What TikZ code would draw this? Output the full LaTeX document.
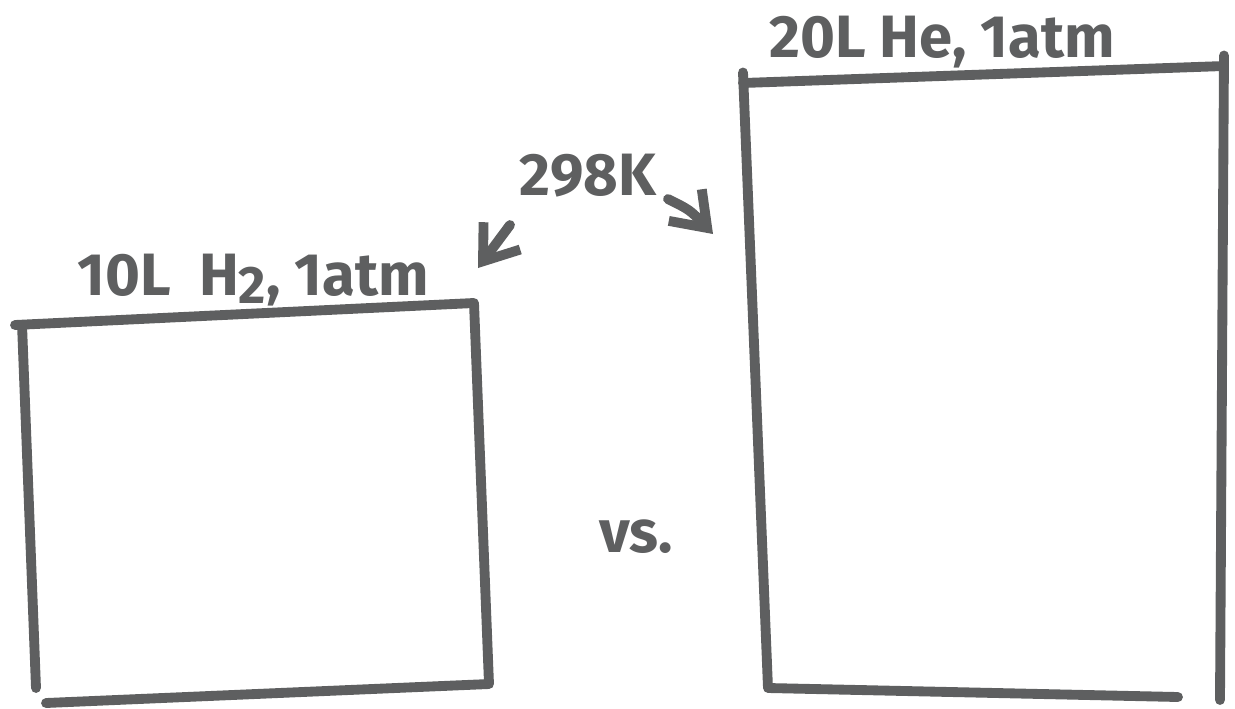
\documentclass[tikz,border=0pt]{standalone}
\usepackage{fontspec}
\setmainfont{Fira Sans}
\usetikzlibrary{arrows.meta}
\definecolor{ink}{HTML}{5E5F60}
\begin{document}
\begin{tikzpicture}[x=0.01cm,y=-0.01cm,
  pen/.style={draw=ink,line width=2.8pt,line cap=round,line join=round},
  hand/.style={text=ink,inner sep=0pt,font=\fontsize{17}{20}\selectfont\bfseries},
  barb/.style={pen,-{Straight Barb[length=9pt,width=13pt,line width=2.8pt]}}]
\useasboundingbox (0,0) rectangle (1235,708);
% left box corners
\coordinate (ltl) at (15,325);
\coordinate (ltr) at (474,303);
\coordinate (lbl) at (36,688);
\coordinate (lbr) at (489,684);
\coordinate (lbs) at (46,703);
% right box corners
\coordinate (rtl) at (743,83);
\coordinate (rtr) at (1224,66);
\coordinate (rbl) at (768,688);
\coordinate (rbe) at (1178,697);
\coordinate (rrb) at (1220,700);
% left box
\draw[pen] (ltl) -- (ltr) -- (lbr) -- (lbs);
\draw[pen] ([xshift=2]ltl) -- (lbl);
% right box
\draw[pen] (rtl) -- (rtr);
\draw[pen] ([yshift=3]rtl) -- (rbl) -- (rbe);
\draw[pen] ([yshift=3]rtr) -- (rrb);
% labels
\node[hand] (lh) at (253,280) {10L\ \ H\raisebox{-0.25ex}{\fontsize{15}{16}\selectfont 2}, 1atm};
\node[hand] (rh) at (942,42) {20L\ He, 1atm};
\node[hand] (tk) at (588,176) {298K};
\node[hand] (vs) at (636,537) {vs.};
% arrows
\coordinate (a1s) at (510,225);
\coordinate (a1e) at (478,268);
\coordinate (a2s) at (668,199);
\coordinate (a2e) at (713,234);
\draw[barb] (a1s) -- (a1e);
\draw[barb] (a2s) .. controls (690,210) .. (a2e);
\end{tikzpicture}
\end{document}
